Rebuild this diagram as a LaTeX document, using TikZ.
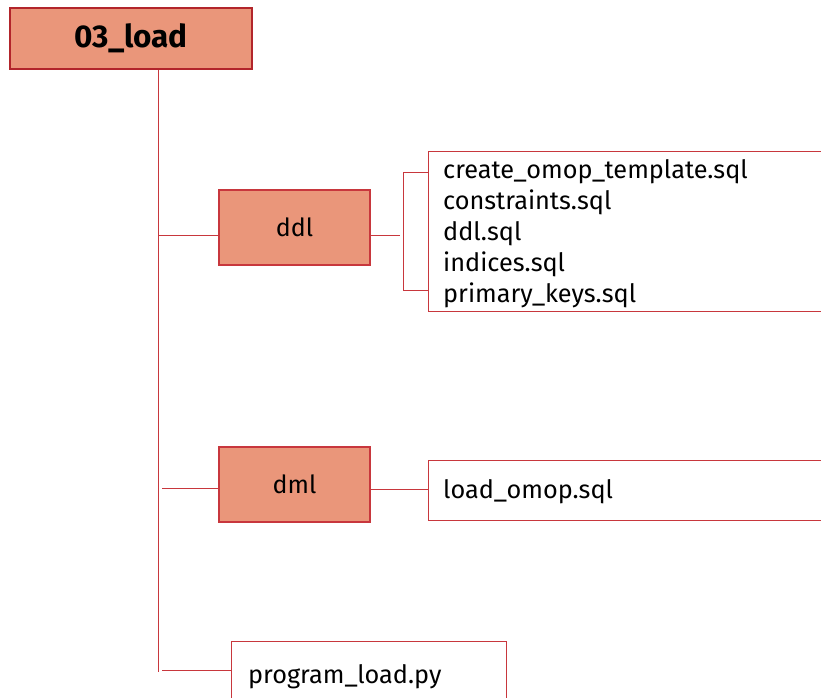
\documentclass[tikz,border=0pt]{standalone}
\usepackage{fontspec}
\setmainfont{Fira Sans}
\definecolor{salmonfill}{HTML}{EA967A}
\definecolor{darkbord}{HTML}{B2252B}
\definecolor{linered}{HTML}{C8373D}
\tikzset{
  mainbox/.style={draw=darkbord, line width=2.6pt, fill=salmonfill, minimum width=242pt, minimum height=61pt, inner sep=0pt, font=\fontsize{31.5}{36}\selectfont\bfseries},
  dirbox/.style={draw=linered, line width=1.3pt, fill=salmonfill, minimum width=151pt, minimum height=75pt, inner sep=0pt, font=\fontsize{25}{30}\selectfont},
  filebox/.style={draw=linered, line width=1.2pt, fill=white, inner sep=0pt, anchor=north west},
  ftext/.style={anchor=base west, inner sep=0pt, font=\fontsize{25.3}{30}\selectfont},
  conn/.style={draw=linered, line width=1pt},
}
\begin{document}
\begin{tikzpicture}[x=1pt,y=-1pt]
\useasboundingbox[fill=white] (0,0) rectangle (821,697);
% root
\node[mainbox] (root) at (131,38.5) {03\_load};
% directories
\node[dirbox] (ddl) at (294.5,227.5) {ddl};
\node[dirbox] (dml) at (294.5,484.5) {dml};
% file boxes
\node[filebox, minimum width=410pt, minimum height=160pt] (ddlfiles) at (428,151) {};
\node[filebox, minimum width=410pt, minimum height=60pt] (dmlfiles) at (428,459.5) {};
\node[filebox, minimum width=275pt, minimum height=70pt] (progbox) at (231,641) {};
% texts
\node[ftext] (f1) at (443,178) {create\_omop\_template.sql};
\node[ftext] (f2) at (443,209) {constraints.sql};
\node[ftext] (f3) at (443,240) {ddl.sql};
\node[ftext] (f4) at (443,271) {indices.sql};
\node[ftext] (f5) at (443,302) {primary\_keys.sql};
\node[ftext] (g1) at (443,498) {load\_omop.sql};
\node[ftext] (p1) at (248,683) {program\_load.py};
% trunk
\coordinate (tend) at (158.5,672);
\draw[conn] (root.south -| tend) -- (tend);
% branches
\coordinate (b1) at (158.5,235);
\coordinate (b2) at (162,488);
\coordinate (b3) at (162,670);
\draw[conn] (b1) -- (b1 -| ddl.west);
\draw[conn] (b2) -- (b2 -| dml.west);
\draw[conn] (b3) -- (b3 -| progbox.west);
% ddl to bracket
\coordinate (br) at (400,235);
\draw[conn] (br -| ddl.east) -- (br);
\coordinate (bt) at (403.5,172.5);
\coordinate (bb) at (403.5,290.5);
\draw[conn] (bt -| ddlfiles.west) -- (bt) -- (bb) -- (bb -| ddlfiles.west);
% dml to file box
\coordinate (dr) at (400,489);
\draw[conn] (dr -| dml.east) -- (dr -| dmlfiles.west);
\end{tikzpicture}
\end{document}
